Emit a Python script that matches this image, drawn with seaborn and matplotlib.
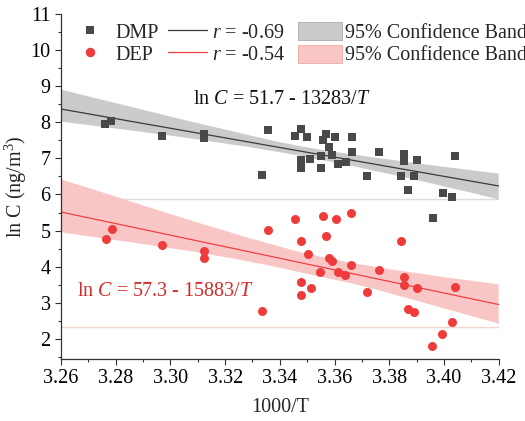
import numpy as np
import pandas as pd
import seaborn as sns
import matplotlib
matplotlib.use("Agg")
import matplotlib.pyplot as plt
from matplotlib.lines import Line2D
from matplotlib.patches import Patch
from matplotlib.ticker import MultipleLocator

# ---- data (x = 1000/T, y = ln C) ----
dmp_x = [3.2762, 3.2784, 3.2971, 3.3123, 3.3123,
         3.3355, 3.3334, 3.3457, 3.3479, 3.3501, 3.3479, 3.3479, 3.3512, 3.3549, 3.3549,
         3.3570, 3.3559, 3.3581, 3.3592, 3.3603, 3.3614, 3.3640, 3.3662, 3.3662, 3.3717,
         3.3764, 3.3854, 3.3854, 3.3903, 3.3844, 3.3889, 3.3867, 3.4042, 3.3995, 3.4028,
         3.3959]
dmp_y = [7.945, 8.03, 7.62, 7.67, 7.56,
         7.78, 6.54, 7.61, 7.81, 7.59, 6.95, 6.73, 6.98, 7.06, 6.73,
         7.67, 7.50, 7.31, 7.09, 7.59, 6.84, 6.90, 7.59, 7.17, 6.51,
         7.17, 7.12, 6.92, 6.95, 6.51, 6.51, 6.12, 7.06, 6.04, 5.93,
         5.36]

dep_x = [3.2785, 3.2763, 3.2971, 3.3123, 3.3123,
         3.3334, 3.3356, 3.3457, 3.3479, 3.3502, 3.3479, 3.3479, 3.3513, 3.3547, 3.3558,
         3.3569, 3.3580, 3.3592, 3.3604, 3.3614, 3.3639, 3.3661, 3.3661, 3.3717, 3.3763,
         3.3843, 3.3854, 3.3854, 3.3901, 3.3867, 3.3890, 3.4040, 3.4028, 3.3993, 3.3958]
dep_y = [5.04, 4.78, 4.59, 4.43, 4.25,
         2.79, 5.02, 5.33, 4.72, 4.36, 3.59, 3.23, 3.42, 3.85, 5.40,
         4.86, 4.23, 4.15, 5.33, 3.86, 3.78, 5.49, 4.05, 3.30, 3.90,
         4.71, 3.73, 3.49, 3.40, 2.82, 2.75, 3.44, 2.46, 2.13, 1.81]

series = ["DMP", "DEP"]
r_labels = ["$r$ = -0.69", "$r$ = -0.54"]
band_label = "95% Confidence Band"
eq_dmp = r"ln $C$ = 51.7 - 13283/$T$"
eq_dep = r"ln $C$ = 57.3 - 15883/$T$"
ref_lines = [5.87, 2.33]
x_ticks = [3.26, 3.28, 3.30, 3.32, 3.34, 3.36, 3.38, 3.40, 3.42]
y_ticks = [2, 3, 4, 5, 6, 7, 8, 9, 10, 11]

df = pd.concat([
    pd.DataFrame({"x": dmp_x, "y": dmp_y, "compound": "DMP"}),
    pd.DataFrame({"x": dep_x, "y": dep_y, "compound": "DEP"}),
], ignore_index=True)

# ---- style ----
sns.set_style("ticks")
plt.rcParams["font.family"] = ["Liberation Serif", "DejaVu Serif"]
plt.rcParams["mathtext.fontset"] = "custom"
plt.rcParams["mathtext.rm"] = "Liberation Serif"
plt.rcParams["mathtext.it"] = "Liberation Serif:italic"
plt.rcParams["mathtext.bf"] = "Liberation Serif:bold"

FS = 14.5
pt_col = {"DMP": "#494949", "DEP": "#ef3b3b"}
line_col = {"DMP": "#3a3a3a", "DEP": "#ee4040"}
band_col = {"DMP": "#cbcbcb", "DEP": "#f9c6c6"}
marker = {"DMP": "s", "DEP": "o"}
msize = {"DMP": 30, "DEP": 42}

fig = plt.figure(figsize=(5.25, 4.21), dpi=100)
ax = fig.add_axes([61 / 525, 1 - 359 / 421, (498.7 - 61) / 525, (359 - 13.7) / 421])
ax.set_xlim(3.26, 3.42)
ax.set_ylim(1.45, 11)

ax.axhline(ref_lines[0], color="#dcdcdc", lw=1.0, zorder=0.5)
ax.axhline(ref_lines[1], color="#f7d4d4", lw=1.0, zorder=0.5)

for name in series:
    sub = df[df["compound"] == name]
    sns.regplot(data=sub, x="x", y="y", ax=ax, ci=95, n_boot=2000, seed=3,
                truncate=False, marker=marker[name],
                scatter_kws=dict(s=msize[name], color=pt_col[name], linewidths=0, zorder=3, alpha=1),
                line_kws=dict(color=line_col[name], lw=0.9, zorder=2.5))

# band colours
polys = [c for c in ax.collections if isinstance(c, matplotlib.collections.PolyCollection)]
for poly, name in zip(polys, series):
    poly.set_facecolor(band_col[name])
    poly.set_alpha(1)
    poly.set_edgecolor("none")
    poly.set_zorder(1)

ax.text(3.3083, 8.64, eq_dmp, fontsize=FS, color="#111111", ha="left", va="center")
ax.text(3.2659, 3.33, eq_dep, fontsize=FS, color="#d42a2a", ha="left", va="center")

ax.set_xticks(x_ticks)
ax.set_xticklabels([f"{v:.2f}" for v in x_ticks])
ax.set_yticks(y_ticks)
ax.xaxis.set_minor_locator(MultipleLocator(0.01))
ax.yaxis.set_minor_locator(MultipleLocator(0.5))
ax.tick_params(which="major", direction="out", length=4.5, width=0.8, labelsize=FS, colors="#333333", labelcolor="black", pad=3)
ax.tick_params(which="minor", direction="out", length=2.5, width=0.8, colors="#333333")
for s in ["top", "right"]:
    ax.spines[s].set_visible(False)
for s in ["left", "bottom"]:
    ax.spines[s].set_color("#333333")
    ax.spines[s].set_linewidth(0.9)

ax.set_xlabel("1000/T", fontsize=FS, labelpad=7)
ax.set_ylabel("ln C (ng/m$^3$)", fontsize=FS, labelpad=1)

# ---- legends (three columns, Origin style) ----
top = 1 - 22 / 421
common = dict(frameon=False, fontsize=FS, borderpad=0, borderaxespad=0, handleheight=1.0,
              labelspacing=0.08, loc="upper left", bbox_transform=fig.transFigure)
h1 = [Line2D([], [], ls="none", marker=marker[n], color=pt_col[n], markersize=6.2 if n == "DMP" else 6.8,
             markeredgewidth=0) for n in series]
leg1 = fig.legend(h1, series, bbox_to_anchor=(80 / 525, top), handlelength=0.95, handletextpad=0.8, **common)
h2 = [Line2D([], [], color=line_col[n], lw=0.9) for n in series]
leg2 = fig.legend(h2, r_labels, bbox_to_anchor=(168 / 525, top), handlelength=1.95, handletextpad=0.22, **common)
h3 = [Patch(facecolor=band_col[n], edgecolor="#aaaaaa" if n == "DMP" else "#f0a8a8", lw=0.6) for n in series]
leg3 = fig.legend(h3, [band_label, band_label], bbox_to_anchor=(298 / 525, top), handlelength=2.2,
                  handletextpad=0.12, **common)

fig.savefig("out.png", dpi=100)
